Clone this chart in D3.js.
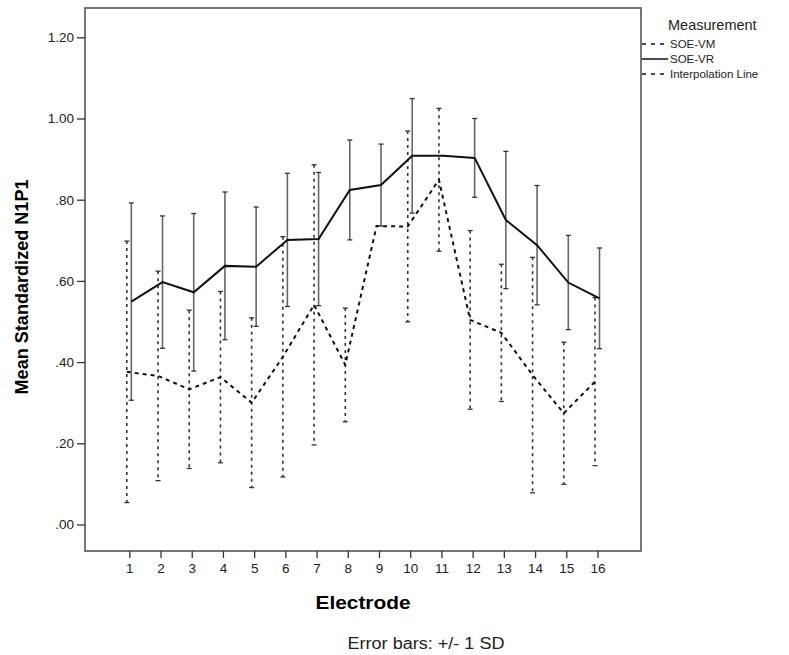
<!DOCTYPE html>
<html>
<head>
<meta charset="utf-8">
<script src="https://cdn.jsdelivr.net/npm/d3@7"></script>
<style>
  body { margin: 0; background: #fff; }
  svg { font-family: "Liberation Sans", Arial, sans-serif; }
</style>
</head>
<body>
<div id="chart"></div>
<script>
// electrodes and values
const electrodes = [1, 2, 3, 4, 5, 6, 7, 8, 9, 10, 11, 12, 13, 14, 15, 16]
const vrMean = [0.549, 0.597, 0.572, 0.637, 0.635, 0.701, 0.703, 0.824, 0.836, 0.908, 0.908, 0.903, 0.750, 0.688, 0.596, 0.557]
const vrSD   = [0.243, 0.163, 0.194, 0.182, 0.147, 0.164, 0.164, 0.123, 0.101, 0.141, null, 0.097, 0.169, 0.147, 0.116, 0.124]
const vmMean = [0.376, 0.366, 0.333, 0.363, 0.300, 0.413, 0.541, 0.393, 0.735, 0.734, 0.849, 0.504, 0.472, 0.368, 0.274, 0.352]
const vmSD   = [0.322, 0.258, 0.195, 0.211, 0.209, 0.296, 0.345, 0.140, null, 0.235, 0.176, 0.220, 0.169, 0.290, 0.175, 0.207]
const yTicks = [0, 0.2, 0.4, 0.6, 0.8, 1.0, 1.2]
const legendItems = ["SOE-VM", "SOE-VR", "Interpolation Line"]

const outerWidth = 789
const outerHeight = 655

// plot frame
const frameLeft = 85
const frameRight = 641
const frameTop = 8
const frameBottom = 551

const svg = d3.select("#chart").append("svg")
    .attr("width", outerWidth)
    .attr("height", outerHeight)

const xScale = d3.scaleLinear()
    .domain([1, 16])
    .range([129.3, 597.5])
const yScale = d3.scaleLinear()
    .domain([0, 1.2])
    .range([524.5, 37.3])

// frame
svg.append("rect")
    .attr("x", frameLeft)
    .attr("y", frameTop)
    .attr("width", frameRight - frameLeft)
    .attr("height", frameBottom - frameTop)
    .attr("fill", "none")
    .attr("stroke", "#555")
    .attr("stroke-width", 1.6)

// y axis
const fmt = v => d3.format(".2f")(v).replace(/^0/, "")
const yAxis = svg.append("g")
    .attr("transform", "translate(" + frameLeft + ",0)")
    .call(d3.axisLeft(yScale).tickValues(yTicks).tickFormat(fmt).tickSize(8).tickPadding(3))
yAxis.select(".domain").remove()
yAxis.selectAll("line").attr("stroke", "#333").attr("stroke-width", 1.3)
yAxis.selectAll("text").style("font-size", "13.5px").attr("fill", "#222")

// x axis
const xAxis = svg.append("g")
    .attr("transform", "translate(0," + frameBottom + ")")
    .call(d3.axisBottom(xScale).tickValues(electrodes).tickFormat(d3.format("d")).tickSize(7).tickPadding(5))
xAxis.select(".domain").remove()
xAxis.selectAll("line").attr("stroke", "#333").attr("stroke-width", 1.3)
xAxis.selectAll("text").style("font-size", "13.5px").attr("fill", "#222")

// axis titles
svg.append("text")
    .attr("x", (frameLeft + frameRight) / 2)
    .attr("y", 609)
    .attr("text-anchor", "middle")
    .attr("textLength", 95)
    .attr("lengthAdjust", "spacingAndGlyphs")
    .style("font-size", "18px")
    .style("font-weight", "bold")
    .text("Electrode")

svg.append("text")
    .attr("transform", "translate(28,287) rotate(-90)")
    .attr("text-anchor", "middle")
    .attr("textLength", 215)
    .attr("lengthAdjust", "spacingAndGlyphs")
    .style("font-size", "18px")
    .style("font-weight", "bold")
    .text("Mean Standardized N1P1")

svg.append("text")
    .attr("x", 426)
    .attr("y", 649)
    .attr("text-anchor", "middle")
    .attr("textLength", 157)
    .attr("lengthAdjust", "spacingAndGlyphs")
    .style("font-size", "16px")
    .attr("fill", "#222")
    .text("Error bars: +/- 1 SD")

// series
const series = [
    {name: "SOE-VM", mean: vmMean, sd: vmSD, dx: -2.5, dash: "4,4", barDash: "3,4", barColor: "#333"},
    {name: "SOE-VR", mean: vrMean, sd: vrSD, dx: 2, dash: null, barDash: null, barColor: "#666"}
]

const plot = svg.append("g")

series.forEach(s => {
    const pts = electrodes.map((e, i) => ({e: e, m: s.mean[i], sd: s.sd[i]}))

    // error bars
    const bars = pts.filter(p => p.sd != null)
    plot.selectAll(null).data(bars).enter().append("line")
        .attr("x1", p => xScale(p.e) + s.dx)
        .attr("x2", p => xScale(p.e) + s.dx)
        .attr("y1", p => yScale(p.m + p.sd))
        .attr("y2", p => yScale(p.m - p.sd))
        .attr("stroke", s.barColor)
        .attr("stroke-width", 1.6)
        .attr("stroke-dasharray", s.barDash)

    ;[1, -1].forEach(sign => {
        plot.selectAll(null).data(bars).enter().append("line")
            .attr("x1", p => xScale(p.e) + s.dx - 2.5)
            .attr("x2", p => xScale(p.e) + s.dx + 2.5)
            .attr("y1", p => yScale(p.m + sign * p.sd))
            .attr("y2", p => yScale(p.m + sign * p.sd))
            .attr("stroke", "#333")
            .attr("stroke-width", 1.3)
    })

    // mean line
    const line = d3.line()
        .x(p => xScale(p.e) + s.dx)
        .y(p => yScale(p.m))
    plot.append("path")
        .datum(pts)
        .attr("d", line)
        .attr("fill", "none")
        .attr("stroke", "#111")
        .attr("stroke-width", 2)
        .attr("stroke-dasharray", s.dash)
})

// legend
const legend = svg.append("g")
legend.append("text")
    .attr("x", 668)
    .attr("y", 30)
    .style("font-size", "14.5px")
    .attr("fill", "#222")
    .text("Measurement")

legendItems.forEach((name, i) => {
    const ly = 44 + i * 15
    legend.append("line")
        .attr("x1", 642)
        .attr("x2", 668)
        .attr("y1", ly)
        .attr("y2", ly)
        .attr("stroke", "#111")
        .attr("stroke-width", 1.5)
        .attr("stroke-dasharray", name === "SOE-VR" ? null : "4,5")
    legend.append("text")
        .attr("x", 670)
        .attr("y", ly + 4)
        .style("font-size", "11.5px")
        .attr("fill", "#222")
        .text(name)
})
</script>
</body>
</html>
